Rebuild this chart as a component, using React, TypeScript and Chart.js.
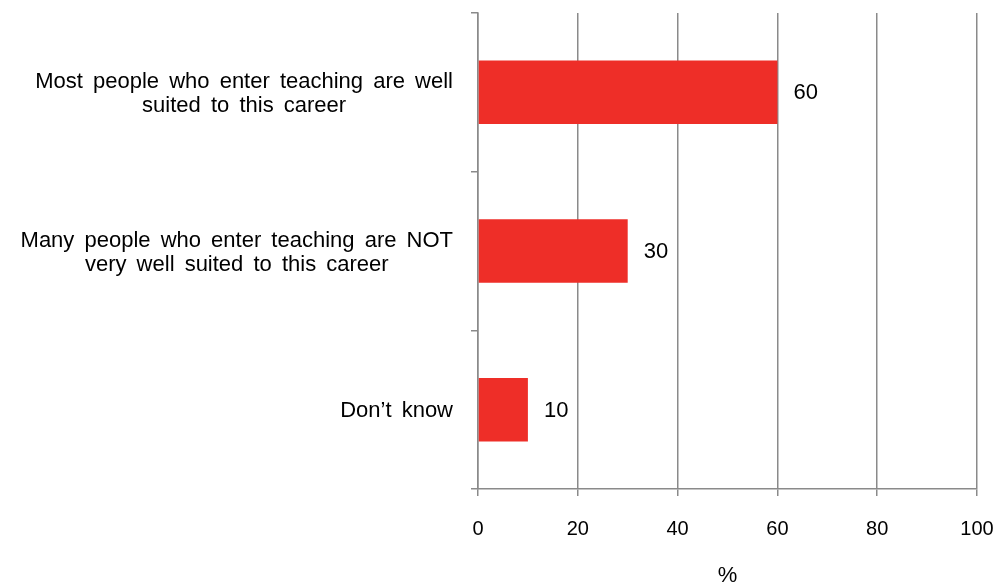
import React, { useEffect, useRef } from "react";
import { Chart, registerables } from "chart.js";

Chart.register(...registerables);

const categories: string[][] = [
  ["Most people who enter teaching are well", "suited to this career"],
  ["Many people who enter teaching are NOT", "very well suited to this career"],
  ["Don\u2019t know"],
];
const values: number[] = [60, 30, 10];
const xTicks: number[] = [0, 20, 40, 60, 80, 100];
const axisTitle = "%";

const FONT = '"Liberation Sans", Arial, sans-serif';
const GRID = "#8a8a8a";
const BAR = "#EE2E28";

const labelPlugin = {
  id: "customLabels",
  afterDraw(chart: any) {
    const ctx = chart.ctx;
    const yScale = chart.scales.y;
    const meta = chart.getDatasetMeta(0);
    ctx.save();
    ctx.font = `22px ${FONT}`;
    ctx.fillStyle = "#000";
    ctx.textBaseline = "middle";
    try {
      (ctx as any).wordSpacing = "4px";
    } catch (e) {}
    const rightEdge = chart.chartArea.left - 25;
    const lh = 24;
    categories.forEach((lines, i) => {
      const cy = yScale.getPixelForValue(i) + (lines.length > 1 ? 2 : 1);
      const widest = Math.max(...lines.map((l) => ctx.measureText(l).width));
      const cx = rightEdge - widest / 2;
      ctx.textAlign = "center";
      const start = cy - ((lines.length - 1) * lh) / 2;
      lines.forEach((l, k) => ctx.fillText(l, cx, start + k * lh));
    });
    try {
      (ctx as any).wordSpacing = "0px";
    } catch (e) {}
    ctx.textAlign = "left";
    meta.data.forEach((bar: any, i: number) => {
      ctx.fillText(String(values[i]), bar.x + 16, bar.y + 1);
    });
    ctx.restore();
  },
};

export default function App() {
  const ref = useRef<HTMLCanvasElement | null>(null);
  useEffect(() => {
    if (!ref.current) return;
    const chart = new Chart(ref.current, {
      type: "bar",
      data: {
        labels: categories.map((c) => c.join(" ")),
        datasets: [
          {
            data: values,
            backgroundColor: BAR,
            borderWidth: 0,
            barPercentage: 0.4,
            categoryPercentage: 1,
          },
        ],
      },
      options: {
        indexAxis: "y",
        animation: false,
        responsive: true,
        maintainAspectRatio: false,
        layout: { padding: { top: 13, right: 23, left: 0, bottom: 0 } },
        plugins: { legend: { display: false }, tooltip: { enabled: false } },
        font: { family: FONT, size: 20 },
        scales: {
          x: {
            type: "linear",
            min: 0,
            max: 100,
            afterBuildTicks(scale: any) {
              scale.ticks = xTicks.map((v) => ({ value: v }));
            },
            afterFit(scale: any) {
              scale.height = 93;
              scale.paddingLeft = 0;
              scale.paddingRight = 0;
            },
            grid: {
              color: GRID,
              lineWidth: 1.5,
              drawTicks: true,
              tickLength: 7,
              tickColor: GRID,
            },
            border: { display: true, color: GRID, width: 1.5 },
            ticks: {
              color: "#000",
              padding: 21,
              font: { family: FONT, size: 20 },
            },
            title: {
              display: true,
              text: axisTitle,
              color: "#000",
              font: { family: FONT, size: 22 },
              padding: { top: 0, bottom: -7 },
            },
          },
          y: {
            type: "category",
            afterFit(scale: any) {
              scale.width = 478;
            },
            grid: {
              offset: true,
              drawOnChartArea: false,
              drawTicks: true,
              tickLength: 7,
              color: GRID,
              tickColor: GRID,
              lineWidth: 1.5,
            },
            border: { display: true, color: GRID, width: 1.5 },
            ticks: { display: false },
          },
        },
      },
      plugins: [labelPlugin],
    } as any);
    return () => chart.destroy();
  }, []);
  return (
    <div style={{ position: "fixed", left: 0, top: 0, width: 1000, height: 582, background: "#fff" }}>
      <canvas ref={ref} />
    </div>
  );
}
